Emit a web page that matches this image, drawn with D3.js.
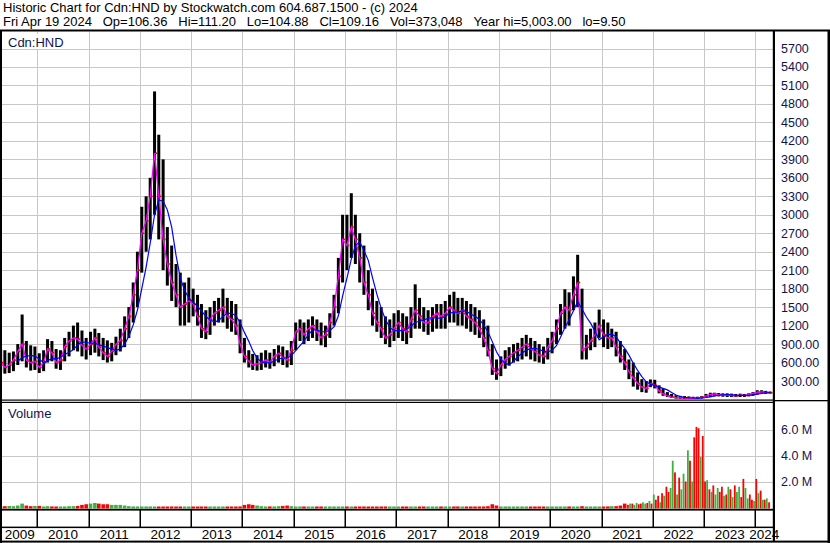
<!DOCTYPE html>
<html><head><meta charset="utf-8">
<script src="https://cdnjs.cloudflare.com/ajax/libs/d3/7.8.5/d3.min.js"></script>
<style>
body{margin:0;background:#fff}
svg{display:block}
text{font-family:"Liberation Sans",Arial,sans-serif}
</style>
</head><body>
<svg id="c" width="830" height="543"></svg>
<script>
// ---------------- DATA (monthly, starting 2009-04) ----------------
const startYear = 2009, startMonth = 3; // April 2009 (0-based month)
const high = [
 820,800,760,780,900,1380,950,880,860,
 750,800,980,950,820,800,1000,1100,1200,1250,1120,1000,
 1100,1150,1080,1000,960,920,1020,1150,1350,1500,1900,2400,
 3130,3300,3600,5003,4300,3900,2800,2500,2200,2060,1900,1980,
 1800,1700,1550,1450,1500,1600,1650,1800,1650,1600,1550,1300,
 1000,800,740,720,760,800,760,820,880,860,800,950,
 1250,1300,1250,1300,1350,1300,1250,1200,1400,1700,2300,3000,
 3000,3350,3000,2700,2500,2100,1800,1600,1500,1350,1300,1400,
 1450,1400,1350,1500,1870,1650,1500,1450,1500,1550,1550,1600,
 1700,1750,1650,1650,1600,1550,1500,1450,1300,1200,900,650,
 700,800,850,900,920,1000,1050,1000,950,900,860,1000,
 1100,1300,1550,1790,1740,2000,2350,1800,1050,1150,1250,1460,
 1300,1250,1150,1100,950,820,650,600,440,330,300,325,
 320,230,180,120,90,70,60,55,50,45,45,55,
 90,110,110,105,100,100,95,90,95,90,100,120,
 150,150,140,130
];
const low = [
 450,420,430,460,560,620,520,470,480,
 430,460,600,620,500,480,620,700,800,780,700,650,
 720,760,700,640,600,620,720,780,850,1000,1250,1500,
 2060,2400,2600,3000,2600,2100,1850,1600,1500,1200,1200,1250,
 1350,1200,1000,980,1050,1200,1250,1250,1150,1100,1050,750,
 600,520,480,470,480,520,500,540,600,560,520,560,
 800,950,900,950,1000,950,880,850,1000,1200,1400,1900,
 2100,2300,2200,1900,1700,1450,1200,1100,1000,900,850,950,
 1000,950,900,1000,1150,1150,1100,1050,1100,1150,1150,1150,
 1250,1250,1200,1200,1150,1100,1050,1000,850,700,400,320,
 380,500,550,600,620,650,700,650,620,600,580,650,
 750,900,1050,1150,1200,1450,1500,650,650,800,850,1000,
 850,820,850,700,600,480,330,210,160,120,110,200,
 180,100,60,40,25,15,12,10,10,10,10,15,
 30,40,50,50,45,40,40,40,40,40,50,60,
 80,90,90,95
];
const close = [
 600,520,560,640,780,900,640,600,620,
 520,600,820,760,600,640,860,950,1000,980,880,820,
 900,1000,850,760,700,780,900,960,1150,1350,1700,2100,
 2700,2900,3300,4000,3300,2600,2200,1900,1700,1500,1550,1600,
 1550,1350,1150,1100,1300,1400,1450,1500,1350,1300,1200,900,
 700,620,560,580,600,640,600,700,750,680,640,800,
 1100,1150,1050,1150,1200,1100,1000,1050,1250,1500,2000,2600,
 2500,2800,2600,2300,1900,1700,1400,1250,1150,1000,1050,1150,
 1250,1150,1100,1300,1450,1350,1250,1250,1350,1400,1350,1400,
 1500,1450,1400,1450,1350,1300,1250,1150,1000,800,500,420,
 560,650,700,760,800,850,900,820,780,720,700,850,
 950,1150,1400,1500,1450,1700,1900,800,850,950,1050,1200,
 1050,1000,1000,850,700,600,450,350,260,200,180,260,
 230,140,90,60,40,30,25,25,22,20,25,35,
 60,80,90,80,75,70,65,60,70,65,80,100,
 120,125,115,109
];
// Volume in millions, monthly 2009-04 .. 2021-06
const volMonthly = [
 0.08,0.1,0.12,0.1,0.15,0.3,0.15,0.1,0.12,
 0.12,0.08,0.1,0.08,0.06,0.06,0.08,0.1,0.1,0.12,0.2,0.25,
 0.3,0.35,0.3,0.25,0.25,0.2,0.2,0.2,0.15,0.1,0.08,0.08,
 0.06,0.06,0.08,0.08,0.06,0.05,0.05,0.05,0.05,0.05,0.05,0.05,
 0.05,0.04,0.04,0.04,0.04,0.04,0.04,0.04,0.04,0.04,0.05,0.08,
 0.2,0.25,0.2,0.15,0.1,0.08,0.08,0.08,0.1,0.12,0.15,0.1,
 0.06,0.05,0.05,0.05,0.05,0.05,0.05,0.05,0.05,0.06,0.06,0.06,
 0.06,0.05,0.05,0.05,0.04,0.04,0.04,0.04,0.04,0.04,0.04,0.04,
 0.04,0.04,0.05,0.04,0.05,0.04,0.04,0.04,0.04,0.04,0.04,0.04,
 0.04,0.04,0.04,0.04,0.04,0.04,0.04,0.05,0.06,0.1,0.25,0.15,
 0.08,0.06,0.05,0.05,0.05,0.05,0.05,0.05,0.05,0.05,0.05,0.06,
 0.06,0.06,0.08,0.06,0.05,0.06,0.08,0.1,0.06,0.05,0.05,0.05,
 0.06,0.08,0.1,0.1,0.15,0.3
];
// Volume in millions, half-monthly from 2021-07
const volHalf = [
 0.2,0.3, 0.3,0.2, 0.35,0.25, 0.3,0.4, 0.3,0.35, 0.5,0.3,
 1.0,0.6, 0.9,0.4, 1.1,0.9, 1.6,1.2, 1.5,3.6, 2.7,1.0, 2.3,1.4, 2.6,2.0, 4.4,3.6, 2.0,5.4, 6.2,6.1, 3.9,5.5,
 2.0,2.1, 1.4,1.2, 1.7,1.0, 1.5,1.2, 1.6,0.9, 1.0,1.6, 1.4,0.8, 1.7,1.2, 1.6,0.8, 2.2,1.5, 0.7,1.0, 0.6,0.5,
 2.2,1.1, 1.3,0.6, 0.6,0.7, 0.4
];
const volHalfDir = (
 "du" + "du" + "ud" + "du" + "ud" + "ud" +
 "ud" + "du" + "du" + "dd" + "uu" + "du" + "du" + "ud" + "ud" + "ud" + "dd" + "ud" +
 "du" + "du" + "du" + "ud" + "du" + "du" + "du" + "du" + "ud" + "du" + "ud" + "du" +
 "du" + "du" + "du" + "d"
).split("");
const yearLabels = ["2009","2010","2011","2012","2013","2014","2015","2016","2017","2018","2019","2020","2021","2022","2023","2024"];
const priceTicks = [300,600,900,1200,1500,1800,2100,2400,2700,3000,3300,3600,3900,4200,4500,4800,5100,5400,5700];
const volTicks = [2,4,6];
const title1 = "Historic Chart for Cdn:HND by Stockwatch.com 604.687.1500 - (c) 2024";
const title2 = "Fri Apr 19 2024  Op=106.36  Hi=111.20  Lo=104.88  Cl=109.16  Vol=373,048  Year hi=5,003.00  lo=9.50";

// ---------------- LAYOUT ----------------
const svg = d3.select("#c");
const PL = 2, PR = 773;
const PT = 32, PB = 399;
const VT = 403, VB = 509;
const navy = "#12124e", grid = "#c8c8c8", green = "#3fb03f", red = "#ff0000";

const x = d3.scaleTime().domain([new Date(2010,0,1), new Date(2024,0,1)]).range([37.3, 755.3]);
const yP = d3.scaleLinear().domain([0,5700]).range([399.5,48.5]);
const yV = d3.scaleLinear().domain([0,6]).range([507.5,429.5]);

const months = high.map((h,i)=>({
  date: new Date(startYear, startMonth+i, 15),
  hi: h, lo: low[i], cl: close[i]
}));

svg.append("rect").attr("width",830).attr("height",543).attr("fill","#fff");

const defs = svg.append("defs");
defs.append("clipPath").attr("id","pc").append("rect")
  .attr("x",PL).attr("y",PT).attr("width",PR-PL).attr("height",PB-PT);
defs.append("clipPath").attr("id","vc").append("rect")
  .attr("x",PL).attr("y",VT).attr("width",PR-PL).attr("height",VB-VT);

// grid
const yearStarts = d3.range(2010,2025).map(y=>new Date(y,0,1));
const g = svg.append("g").attr("stroke",grid).attr("stroke-width",1);
yearStarts.forEach(d=>{
  const xx = Math.round(x(d))+0.5;
  g.append("line").attr("x1",xx).attr("x2",xx).attr("y1",PT).attr("y2",PB);
  g.append("line").attr("x1",xx).attr("x2",xx).attr("y1",VT).attr("y2",VB);
});
priceTicks.forEach(v=>{
  const yy = Math.round(yP(v))+0.5;
  g.append("line").attr("x1",PL).attr("x2",PR).attr("y1",yy).attr("y2",yy);
});
volTicks.forEach(v=>{
  const yy = Math.round(yV(v))+0.5;
  g.append("line").attr("x1",PL).attr("x2",PR).attr("y1",yy).attr("y2",yy);
});

// price bars
const pg = svg.append("g").attr("clip-path","url(#pc)");
pg.selectAll("rect.bar").data(months).join("rect").attr("class","bar")
  .attr("x",d=>x(d.date)-1.5).attr("width",3)
  .attr("y",d=>yP(d.hi)).attr("height",d=>Math.max(1,yP(d.lo)-yP(d.hi)))
  .attr("fill","#000");
pg.selectAll("rect.cl").data(months).join("rect").attr("class","cl")
  .attr("x",d=>x(d.date)+0.5).attr("width",2)
  .attr("y",d=>yP(d.cl)-0.8).attr("height",1.6)
  .attr("fill",red);

// moving averages
const maLong = months.map((d,i)=> i<4 ? null : {date:d.date, v:d3.mean(close.slice(i-4,i+1))}).filter(Boolean);
const line = d3.line().x(d=>x(d.date)).y(d=>yP(d.v));
pg.append("path").datum(months.map(d=>({date:d.date,v:d.cl})))
  .attr("d",line).attr("fill","none").attr("stroke","#ff00ff").attr("stroke-width",1.3);
pg.append("path").datum(maLong)
  .attr("d",line).attr("fill","none").attr("stroke","#0000ff").attr("stroke-width",1.2);

// volume
const vg = svg.append("g").attr("clip-path","url(#vc)");
const vm = volMonthly.map((v,i)=>({date:new Date(startYear,startMonth+i,15), v, up: i===0 || close[i]>=close[i-1]}));
vg.selectAll("rect.vm").data(vm).join("rect").attr("class","vm")
  .attr("x",d=>x(d.date)-1.8).attr("width",3.6)
  .attr("y",d=>yV(0)-Math.max(1,yV(0)-yV(d.v))).attr("height",d=>Math.max(1,yV(0)-yV(d.v))+1)
  .attr("fill",d=>d.up?green:red);
const vh = volHalf.map((v,j)=>({date:new Date(2021,6+Math.floor(j/2), j%2?23:8), v, up: volHalfDir[j]==="u"}));
vg.selectAll("rect.vh").data(vh).join("rect").attr("class","vh")
  .attr("x",d=>x(d.date)-0.9).attr("width",1.8)
  .attr("y",d=>yV(d.v)).attr("height",d=>yV(0)-yV(d.v)+1)
  .attr("fill",d=>d.up?green:red);

// axis labels
const fs = 12.5;
svg.selectAll("text.pl").data(priceTicks).join("text").attr("class","pl")
  .attr("x",781).attr("y",d=>yP(d)).attr("dy","0.36em")
  .attr("font-size",fs).attr("fill",navy)
  .text(d=> d<1000 ? d.toFixed(2) : String(d));
svg.selectAll("text.vl").data(volTicks).join("text").attr("class","vl")
  .attr("x",781).attr("y",d=>yV(d)).attr("dy","0.36em")
  .attr("font-size",fs).attr("fill",navy)
  .text(d=> d.toFixed(1)+" M");

// panel labels
svg.append("rect").attr("x",6).attr("y",34).attr("width",53).attr("height",15).attr("fill","#fff");
svg.append("text").attr("x",8).attr("y",46.5).attr("font-size",13).attr("fill",navy).text("Cdn:HND");
svg.append("text").attr("x",8).attr("y",418).attr("font-size",13).attr("fill",navy).text("Volume");

// header (field gaps kept wide with non-breaking spaces)
const keepSpaces = s => s.replace(/  /g, " \u00a0\u00a0");
svg.append("text").attr("x",3).attr("y",12).attr("font-size",13).attr("fill","#000")
  .text(keepSpaces(title1));
svg.append("text").attr("x",3).attr("y",26).attr("font-size",13).attr("fill","#000")
  .text(keepSpaces(title2));

// borders / frames
const blk = svg.append("g").attr("fill","#000");
blk.append("rect").attr("x",0).attr("y",29.5).attr("width",830).attr("height",2);
blk.append("rect").attr("x",0).attr("y",30).attr("width",2).attr("height",513);
blk.append("rect").attr("x",772.8).attr("y",30).attr("width",2.2).attr("height",512);
blk.append("rect").attr("x",827.5).attr("y",30).attr("width",2.5).attr("height",513);
blk.append("rect").attr("x",0).attr("y",399.5).attr("width",775).attr("height",1.2);
blk.append("rect").attr("x",0).attr("y",401.8).attr("width",775).attr("height",1.2);
blk.append("rect").attr("x",775).attr("y",400).attr("width",55).attr("height",1.3);
blk.append("rect").attr("x",0).attr("y",508.8).attr("width",775).attr("height",1.8);
blk.append("rect").attr("x",0).attr("y",526.6).attr("width",775).attr("height",1.5);
blk.append("rect").attr("x",0).attr("y",540.6).attr("width",830).attr("height",2);
yearStarts.forEach(d=>{
  blk.append("rect").attr("x",Math.round(x(d))-0.5).attr("y",510).attr("width",1.5).attr("height",17);
});

// year labels
const bounds = [PL].concat(yearStarts.map(d=>x(d))).concat([PR]);
svg.selectAll("text.yl").data(yearLabels).join("text").attr("class","yl")
  .attr("x",(d,i)=>(bounds[i]+bounds[i+1])/2).attr("y",539)
  .attr("text-anchor","middle").attr("font-size",13.5).attr("fill","#000")
  .text(d=>d);
</script>
</body></html>
